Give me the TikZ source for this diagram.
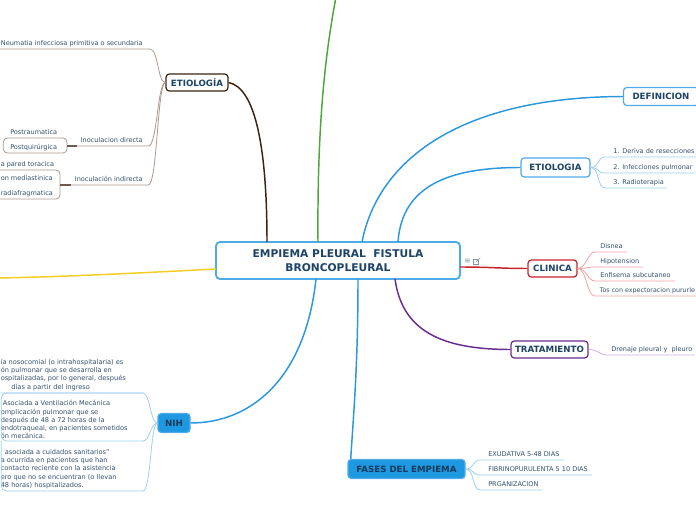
\documentclass[tikz,border=0pt]{standalone}
\usepackage{fontspec}
\setmainfont{DejaVu Sans}
\usetikzlibrary{calc}
\definecolor{txt}{HTML}{31506D}
\definecolor{ttl}{HTML}{1C4368}
\definecolor{mblue}{HTML}{2B97DF}
\definecolor{mborder}{HTML}{4FAAEA}
\definecolor{lblue}{HTML}{9CCFF2}
\definecolor{fblue}{HTML}{1F98E2}
\definecolor{brn}{HTML}{3B2313}
\definecolor{lbrn}{HTML}{A8988F}
\definecolor{dbrn}{HTML}{6E5C52}
\definecolor{grn}{HTML}{4DA53B}
\definecolor{ylw}{HTML}{F4CE1E}
\definecolor{rd}{HTML}{C8222C}
\definecolor{lrd}{HTML}{F0A2A8}
\definecolor{prp}{HTML}{6A2B8E}
\definecolor{lprp}{HTML}{CDB0DE}
\tikzset{
  mainbox/.style={draw=mborder, line width=1.4pt, rounded corners=3pt, fill=white, text=ttl,
    font=\fontsize{8}{11}\selectfont\bfseries, align=center, inner sep=0pt,
    minimum width=183pt, minimum height=27.75pt},
  topic/.style={draw, line width=0.9pt, rounded corners=2.5pt, fill=white, text=ttl,
    font=\fontsize{6.5}{7}\selectfont\bfseries, inner sep=0pt, minimum height=12.75pt},
  filled/.style={topic, fill=fblue, draw=mborder, text=ttl!85!black},
  leaf/.style={inner xsep=0pt, inner ysep=1.4pt, text=txt, font=\fontsize{4.9}{6}\selectfont,
    text height=3.8pt, text depth=1.2pt},
  blk/.style={inner xsep=0pt, inner ysep=1pt, text=txt, align=left,
    font=\fontsize{4.95}{6.2}\selectfont},
  conn/.style={line width=1.1pt},
  bll/.style={lblue, line width=0.6pt},
  brl/.style={lbrn, line width=0.6pt},
  rdl/.style={lrd, line width=0.6pt},
  prl/.style={lprp, line width=0.6pt},
}
\begin{document}
\begin{tikzpicture}[x=0.75pt,y=-0.75pt]
\useasboundingbox (0,0) rectangle (696,520);

% ---------- central and main topics ----------
\node[mainbox] (main) at (338,260.5) {EMPIEMA PLEURAL\ \ FISTULA\\BRONCOPLEURAL};
\node[topic, draw=brn, minimum width=46.5pt] (et1) at (197,82.5) {ETIOLOGÍA};
\node[topic, draw=mborder, minimum width=56.25pt, minimum height=13.5pt] (def) at (661,96.5) {DEFINICION};
\node[topic, draw=mborder, minimum width=51.75pt, minimum height=14.25pt] (et2) at (555.5,167.5) {ETIOLOGIA};
\node[topic, draw=rd, minimum width=36.75pt] (cli) at (552.5,268.5) {CLINICA};
\node[topic, draw=prp, minimum width=57.75pt] (tra) at (549.5,349.5) {TRATAMIENTO};
\node[filled, minimum width=24pt, minimum height=14.25pt] (nih) at (174,423) {NIH};
\node[filled, minimum width=87.75pt, minimum height=14.25pt] (fas) at (406.5,469) {FASES DEL EMPIEMA};

% icons beside central topic
\node[text=txt!60, font=\fontsize{6}{6}\selectfont, inner sep=0pt] (ic) at (467.5,261.5) {≡};
\node[draw=txt!60, line width=0.4pt, inner sep=0pt, minimum width=3.6pt, minimum height=3.6pt] (lk) at (476,262) {};
\draw[txt!60, line width=0.4pt] (lk.center) -- ([shift={(1.2pt,1.2pt)}]lk.north east);

% ---------- connectors from the central topic ----------
\coordinate (a1) at (267,242);
\coordinate (a2) at (318,242);
\coordinate (g0) at (336,-3);
\coordinate (a3) at (362,242);
\coordinate (a4) at (398,242);
\coordinate (a5) at (460,267);
\coordinate (a6) at (395,279);
\coordinate (a7) at (358,279);
\coordinate (a8) at (316,279);
\coordinate (a9) at (216,269);
\coordinate (y0) at (-3,278);

\draw[conn, brn] (a1) .. controls (267,150) and (256,88) .. (et1.east);
\draw[conn, grn] (a2) .. controls (317,120) and (326,50) .. (g0);
\draw[conn, mblue] (a3) .. controls (378,160) and (460,97) .. (def.west);
\draw[conn, mblue] (a4) .. controls (402,185) and (450,167.5) .. (et2.west);
\draw[conn, rd] (a5) .. controls (490,267) and (500,268.5) .. (cli.west);
\draw[conn, prp] (a6) .. controls (402,330) and (440,349.5) .. (tra.west);
\draw[conn, mblue] (a7) .. controls (358,370) and (353,420) .. ([xshift=2.5pt]fas.north west);
\draw[conn, mblue] (a8) .. controls (305,380) and (250,423) .. (nih.east);
\draw[conn, ylw] (a9) .. controls (140,273) and (60,277) .. (y0);

% ---------- ETIOLOGIA (left) ----------
\node[leaf, anchor=south east] (n1) at (143,49) {Neumatia infecciosa primitiva o secundaria};
\node[leaf, anchor=south east] (id) at (143,146) {Inoculacion directa};
\node[leaf, anchor=south east] (ii) at (143,185) {Inoculación indirecta};
\draw[brl] ([xshift=-4pt]n1.south west) -- ([xshift=5pt]n1.south east) .. controls +(9,0) and +(-8,0) .. (et1.west);
\draw[brl] ([xshift=-3pt]id.south west) -- ([xshift=4pt]id.south east) .. controls +(9,0) and +(-8,0) .. (et1.west);
\draw[brl] ([xshift=-3pt]ii.south west) -- ([xshift=4pt]ii.south east) .. controls +(9,0) and +(-8,0) .. (et1.west);

\node[leaf, anchor=south west] (p1) at (10,138) {Postraumatica};
\node[leaf, anchor=south west] (p2) at (10,153) {Postquirúrgica};
\coordinate (jd) at (67,146);
\draw[brl, rounded corners=3pt] ([xshift=-5pt]p1.south west) rectangle (jd |- p2.south);
\draw[dbrn, line width=1.2pt] (jd) -- ([xshift=-3pt]id.south west);

\node[leaf, anchor=south west] (q1) at (0.5,170) {a pared toracica};
\node[leaf, anchor=south west] (q2) at (0.5,184.5) {on mediastinica};
\node[leaf, anchor=south west] (q3) at (0.5,199) {radiafragmatica};
\coordinate (ji) at (60,185);
\draw[brl, rounded corners=3pt] ([xshift=-20pt]q1.south west) rectangle (ji |- q3.south);
\draw[dbrn, line width=1.2pt] (ji) -- ([xshift=-3pt]ii.south west);

% ---------- ETIOLOGIA (right) ----------
\node[leaf, anchor=south west] (e1) at (613,157) {1. Deriva de resecciones};
\node[leaf, anchor=south west] (e2) at (613,173) {2. Infecciones pulmonar};
\node[leaf, anchor=south west] (e3) at (613,188) {3. Radioterapia};
\foreach \n in {e1,e2,e3}{
  \draw[bll] (et2.east) .. controls +(9,0) and +(-8,0) .. ([xshift=-6pt]\n.south west) -- ([xshift=2pt]\n.south east);
}

% ---------- CLINICA ----------
\node[leaf, anchor=south west] (c1) at (600,252) {Disnea};
\node[leaf, anchor=south west] (c2) at (600,267) {Hipotension};
\node[leaf, anchor=south west] (c3) at (600,281) {Enfisema subcutaneo};
\node[leaf, anchor=south west, font=\fontsize{4.75}{6}\selectfont] (c4) at (599.5,296) {Tos con expectoracion pururle};
\foreach \n in {c1,c2,c3,c4}{
  \draw[rdl] (cli.east) .. controls +(9,0) and +(-8,0) .. ([xshift=-3.5pt]\n.south west) -- ([xshift=3pt]\n.south east);
}

% ---------- TRATAMIENTO ----------
\node[leaf, anchor=south west] (t1) at (611,355) {Drenaje pleural y\ \ pleuro};
\draw[prl] (tra.east) .. controls +(10,0) and +(-8,0) .. ([xshift=-3pt]t1.south west) -- ([xshift=2pt]t1.south east);

% ---------- FASES DEL EMPIEMA ----------
\node[leaf, anchor=south west] (f1) at (488,460) {EXUDATIVA 5-48 DIAS};
\node[leaf, anchor=south west] (f2) at (488,475) {FIBRINOPURULENTA 5 10 DIAS};
\node[leaf, anchor=south west] (f3) at (488,490) {PRGANIZACION};
\foreach \n in {f1,f2,f3}{
  \draw[bll] (fas.east) .. controls +(9,0) and +(-8,0) .. ([xshift=-6pt]\n.south west) -- ([xshift=3pt]\n.south east);
}

% ---------- NIH ----------
\node[blk, anchor=south west] (b1) at (0.5,392) {ía nosocomial (o intrahospitalaria) es\\ón pulmonar que se desarrolla en\\ospitalizadas, por lo general, después\\\hspace*{8pt}días a partir del ingreso};
\node[blk, anchor=south west] (b2) at (0.5,440.5) {\hspace*{1.5pt}Asociada a Ventilación Mecánica\\omplicación pulmonar que se\\después de 48 a 72 horas de la\\endotraqueal, en pacientes sometidos\\ón mecánica.};
\node[blk, anchor=south west] (b3) at (0.5,490.5) {\hspace*{3pt}asociada a cuidados sanitarios"\\a ocurrida en pacientes que han\\contacto reciente con la asistencia\\ero que no se encuentran (o llevan\\48 horas) hospitalizados.};
\coordinate (u1) at (143,393);
\coordinate (u2) at (143,441);
\coordinate (u3) at (143,491);
\draw[bll] (u1 -| b1.west) -- (u1) .. controls +(7,0) and +(-7,0) .. (nih.west);
\draw[bll, rounded corners=4pt] (u1) -- ([xshift=0.6pt]u1 -| b2.west) -- ([xshift=0.6pt]u2 -| b2.west) -- (u2);
\draw[bll] (u2) .. controls +(7,0) and +(-7,0) .. (nih.west);
\draw[bll, rounded corners=4pt] ([xshift=0.6pt]u2 -| b3.west) -- ([xshift=0.6pt]u3 -| b3.west) -- (u3);
\draw[bll] (u3) .. controls +(8,0) and +(-7,0) .. (nih.west);
\end{tikzpicture}
\end{document}
